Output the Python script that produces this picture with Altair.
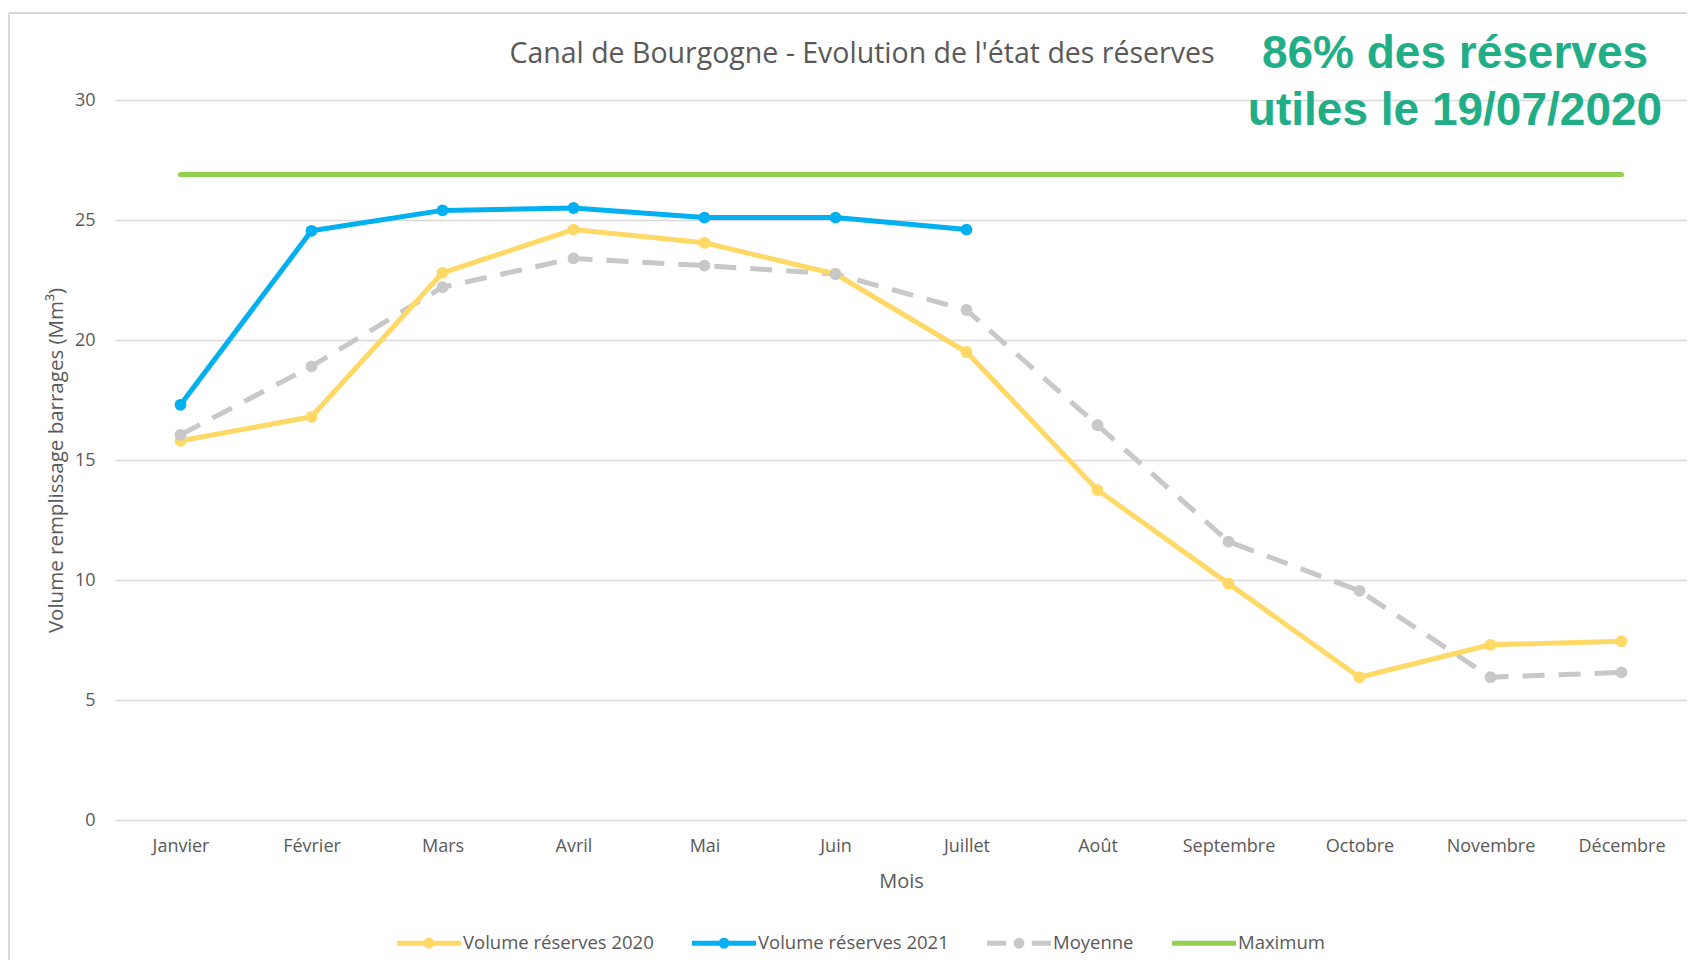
import altair as alt
import pandas as pd

# ---- data ----
months = ["Janvier", "Février", "Mars", "Avril", "Mai", "Juin", "Juillet",
          "Août", "Septembre", "Octobre", "Novembre", "Décembre"]
series_names = ["Volume réserves 2020", "Volume réserves 2021", "Moyenne", "Maximum"]
vol_2020 = [15.8, 16.8, 22.8, 24.6, 24.05, 22.75, 19.5, 13.75, 9.85, 5.95, 7.3, 7.45]
vol_2021 = [17.3, 24.55, 25.4, 25.5, 25.1, 25.1, 24.6]
moyenne = [16.05, 18.9, 22.2, 23.4, 23.1, 22.75, 21.25, 16.45, 11.6, 9.55, 5.95, 6.15]
maximum = [26.9] * 12
y_ticks = [0, 5, 10, 15, 20, 25, 30]
title_text = "Canal de Bourgogne - Evolution de l'état des réserves"
note_lines = ["86% des réserves", "utiles le 19/07/2020"]
y_title = "Volume remplissage barrages (Mm³)"
x_title = "Mois"

colors = ["#FFD966", "#00B0F0", "#C8C8C8", "#92D050"]

rows = []
for name, vals in zip(series_names, [vol_2020, vol_2021, moyenne, maximum]):
    for m, v in zip(months, vals):
        rows.append({"series": name, "month": m, "value": v})
df = pd.DataFrame(rows)

# legend symbols (line + dot, dashed + dot, line)
p_line = "M-1,-0.075L1,-0.075L1,0.075L-1,0.075Z"
p_dot = "M0.17,0A0.17,0.17 0 1,1 -0.17,0A0.17,0.17 0 1,1 0.17,0Z"
p_dash = "M-1,-0.075L-0.4,-0.075L-0.4,0.075L-1,0.075Z M0.4,-0.075L1,-0.075L1,0.075L0.4,0.075Z"
shapes = [p_line + " " + p_dot, p_line + " " + p_dot, p_dash + " " + p_dot, p_line]

FONT = "Open Sans"
TXT = "#595959"

col_scale = alt.Scale(domain=series_names, range=colors)
shape_scale = alt.Scale(domain=series_names, range=shapes)

x_enc = alt.X("month:N", sort=months, title=x_title,
              scale=alt.Scale(type="point", padding=0.5),
              axis=alt.Axis(grid=False, domain=False, ticks=False, tickSize=0,
                            labelAngle=0, labelAlign="center", labelBaseline="top",
                            labelPadding=17, labelFontSize=18,
                            titleFontSize=20, titlePadding=16))
y_enc = alt.Y("value:Q", title=y_title, scale=alt.Scale(domain=[0, 30]),
              axis=alt.Axis(values=y_ticks, grid=True, gridColor="#D9D9D9",
                            gridWidth=1.5, domain=False, ticks=False, tickSize=0,
                            labelPadding=20, labelFontSize=18, titleFontSize=20.5,
                            titlePadding=8))

base = alt.Chart(df).encode(x=x_enc, y=y_enc)
stroke_enc = alt.Stroke("series:N", scale=col_scale, legend=None)
fill_enc = alt.Fill("series:N", scale=col_scale, legend=None)

max_line = base.transform_filter(alt.datum.series == "Maximum").mark_line(
    strokeWidth=5, strokeCap="round").encode(stroke=stroke_enc)
moy_line = base.transform_filter(alt.datum.series == "Moyenne").mark_line(
    strokeWidth=5, strokeDash=[22, 14]).encode(stroke=stroke_enc)
solid = base.transform_filter(
    (alt.datum.series == "Volume réserves 2020") | (alt.datum.series == "Volume réserves 2021")
).mark_line(strokeWidth=5, strokeCap="round", strokeJoin="round").encode(stroke=stroke_enc)
pts = base.transform_filter(alt.datum.series != "Maximum").mark_circle(
    size=140, opacity=1).encode(fill=fill_enc)

leg = alt.Legend(orient="none", legendX=282, legendY=811, direction="horizontal",
                 title=None, symbolSize=4096, symbolStrokeWidth=0, symbolOpacity=1,
                 labelFont=FONT, labelFontSize=18.5, labelColor=TXT, labelOffset=2,
                 labelLimit=400, columnPadding=38, padding=0)
legend_layer = base.transform_filter("false").mark_point(filled=True).encode(
    color=alt.Color("series:N", scale=col_scale, legend=leg),
    shape=alt.Shape("series:N", scale=shape_scale, legend=leg),
)

title_layer = alt.Chart(pd.DataFrame({"t": [title_text]})).mark_text(
    font=FONT, fontSize=28.5, color=TXT, align="center", baseline="alphabetic"
).encode(text="t:N", x=alt.value(747), y=alt.value(-37))

note_layer = alt.Chart(pd.DataFrame({"t": ["\n".join(note_lines)]})).mark_text(
    font="Liberation Sans", fontSize=46, fontWeight="bold", color="#21AE87",
    align="center", baseline="alphabetic", lineBreak="\n", lineHeight=57
).encode(text="t:N", x=alt.value(1340), y=alt.value(-32))

frame = alt.Chart(pd.DataFrame({"a": [0]}))
top_border = frame.mark_rule(color="#D9D9D9", strokeWidth=2).encode(
    x=alt.value(-106), x2=alt.value(1580), y=alt.value(-87))
left_border = frame.mark_rule(color="#D9D9D9", strokeWidth=2).encode(
    x=alt.value(-106), y=alt.value(-87), y2=alt.value(880))

chart = alt.layer(
    legend_layer, top_border, left_border, max_line, moy_line, solid, pts,
    title_layer, note_layer
).properties(
    width=1572, height=720,
    autosize=alt.AutoSizeParams(type="none"),
    padding={"left": 107, "top": 92, "right": 0, "bottom": 140},
    background="white",
).configure_view(stroke=None).configure_axis(
    labelFont=FONT, titleFont=FONT, labelColor=TXT, titleColor=TXT,
    titleFontWeight="normal"
)

chart.save("out.html", embed_options={"renderer": "svg", "actions": False})
